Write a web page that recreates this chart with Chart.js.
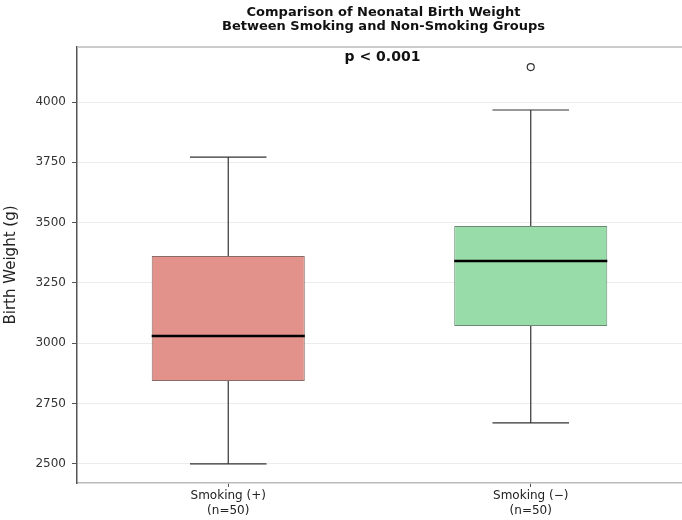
<!DOCTYPE html>
<html>
<head>
<meta charset="utf-8">
<script src="https://cdn.jsdelivr.net/npm/chart.js@4"></script>
<style>
  body { margin: 0; background: #fff; }
  #wrap { width: 682px; height: 520px; position: relative; }
</style>
</head>
<body>
<div id="wrap"><canvas id="chart"></canvas></div>
<script>
// box plot summary per group
const groups = ['Smoking (+)', 'Smoking (\u2212)'];
const sampleSizes = [50, 50];
const whiskerLow = [2500, 2670];
const q1 = [2844, 3072];
const median = [3030, 3341];
const q3 = [3362, 3486];
const whiskerHigh = [3772, 3967];
const outliers = [null, 4145];
const yTicks = [2500, 2750, 3000, 3250, 3500, 3750, 4000];
const titleLines = ['Comparison of Neonatal Birth Weight', 'Between Smoking and Non-Smoking Groups'];
const pText = 'p < 0.001';

const boxPlugin = {
  id: 'boxParts',
  afterDatasetsDraw(chart) {
    const ctx = chart.ctx;
    const y = chart.scales.y;
    const bars = chart.getDatasetMeta(0).data;
    ctx.save();
    bars.forEach((bar, i) => {
      const half = bar.width / 2;
      const capHalf = bar.width / 4;
      // whiskers
      ctx.strokeStyle = '#333';
      ctx.lineWidth = 1.2;
      ctx.beginPath();
      ctx.moveTo(bar.x, y.getPixelForValue(q3[i]));
      ctx.lineTo(bar.x, y.getPixelForValue(whiskerHigh[i]));
      ctx.moveTo(bar.x, y.getPixelForValue(q1[i]));
      ctx.lineTo(bar.x, y.getPixelForValue(whiskerLow[i]));
      ctx.moveTo(bar.x - capHalf, y.getPixelForValue(whiskerHigh[i]));
      ctx.lineTo(bar.x + capHalf, y.getPixelForValue(whiskerHigh[i]));
      ctx.moveTo(bar.x - capHalf, y.getPixelForValue(whiskerLow[i]));
      ctx.lineTo(bar.x + capHalf, y.getPixelForValue(whiskerLow[i]));
      ctx.stroke();
      // median
      ctx.strokeStyle = '#000';
      ctx.lineWidth = 2.5;
      ctx.beginPath();
      ctx.moveTo(bar.x - half, y.getPixelForValue(median[i]));
      ctx.lineTo(bar.x + half, y.getPixelForValue(median[i]));
      ctx.stroke();
    });
    ctx.restore();
  },
  afterDraw(chart) {
    const ctx = chart.ctx;
    const area = chart.chartArea;
    const cx = (area.left + area.right) / 2;
    ctx.save();
    // top spine
    ctx.strokeStyle = '#bbb';
    ctx.lineWidth = 1.5;
    ctx.beginPath();
    ctx.moveTo(area.left, area.top);
    ctx.lineTo(chart.width, area.top);
    ctx.stroke();
    ctx.fillStyle = '#111';
    ctx.textAlign = 'center';
    ctx.textBaseline = 'middle';
    ctx.font = 'bold 13px "DejaVu Sans"';
    titleLines.forEach((t, i) => ctx.fillText(t, cx + 4, 13 + i * 13.5));
    ctx.font = 'bold 14px "DejaVu Sans"';
    ctx.fillText(pText, cx + 3, area.top + 10);
    ctx.restore();
  }
};

new Chart(document.getElementById('chart'), {
  type: 'bar',
  data: {
    labels: groups,
    datasets: [{
      data: q1.map((v, i) => [v, q3[i]]),
      backgroundColor: ['#e2928a', '#98dda9'],
      borderColor: ['rgba(110,70,65,0.8)', 'rgba(70,110,80,0.8)'],
      borderWidth: 1,
      borderSkipped: false,
      categoryPercentage: 1,
      barPercentage: 0.506
    }, {
      type: 'line',
      data: outliers,
      showLine: false,
      pointRadius: 3.5,
      pointBorderWidth: 1.2,
      pointBorderColor: '#333',
      pointBackgroundColor: 'rgba(255,255,255,0)'
    }]
  },
  options: {
    responsive: true,
    maintainAspectRatio: false,
    animation: false,
    layout: { autoPadding: false, padding: { top: 47, right: 0, bottom: 0, left: 0 } },
    plugins: {
      legend: { display: false },
      tooltip: { enabled: false },
      title: { display: false }
    },
    scales: {
      x: {
        offset: true,
        afterFit: (s) => { s.height = 37; s.paddingRight = 0; s.paddingLeft = 0; },
        grid: { offset: false, drawOnChartArea: false, tickColor: '#555', tickLength: 4 },
        border: { color: '#bbb', width: 1.5 },
        ticks: {
          color: '#222',
          font: { family: 'DejaVu Sans', size: 12 },
          padding: 2,
          callback: (v, i) => [groups[i], '(n=' + sampleSizes[i] + ')']
        }
      },
      y: {
        min: 2421,
        max: 4228,
        afterFit: (s) => { s.width = 77; },
        afterBuildTicks: (s) => { s.ticks = yTicks.map(v => ({ value: v })); },
        grid: { color: '#ececec', lineWidth: 1, tickColor: '#555', tickLength: 5 },
        border: { color: '#555', width: 1.5 },
        ticks: {
          color: '#333',
          font: { family: 'DejaVu Sans', size: 12 },
          padding: 6,
          callback: (v) => String(v)
        },
        title: {
          display: true,
          text: 'Birth Weight (g)',
          color: '#222',
          font: { family: 'DejaVu Sans', size: 15 },
          padding: { top: 2, bottom: 2 }
        }
      }
    }
  },
  plugins: [boxPlugin]
});
</script>
</body>
</html>
